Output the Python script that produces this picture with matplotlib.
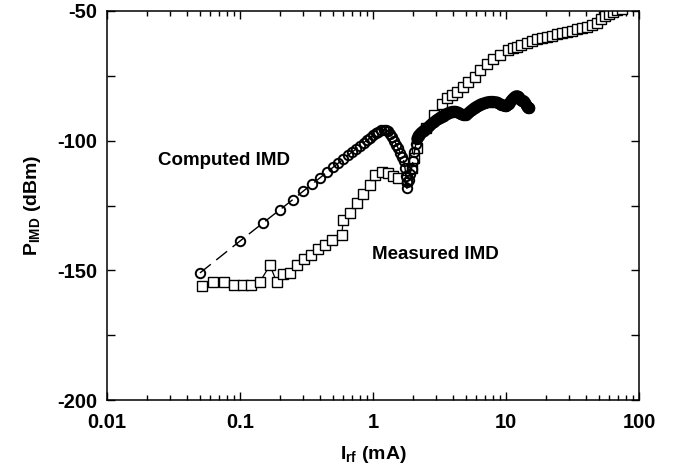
import matplotlib
matplotlib.use("Agg")
import matplotlib.pyplot as plt
from matplotlib.ticker import LogLocator, MultipleLocator, NullFormatter, FuncFormatter

plt.rcParams["font.family"] = ["Liberation Sans", "DejaVu Sans"]
plt.rcParams["font.weight"] = "bold"
plt.rcParams["axes.unicode_minus"] = False
plt.rcParams["mathtext.fontset"] = "custom"
plt.rcParams["mathtext.rm"] = "Liberation Sans:bold"
plt.rcParams["mathtext.it"] = "Liberation Sans:bold"
plt.rcParams["mathtext.bf"] = "Liberation Sans:bold"

# computed IMD vs rf current (mA, dBm)
comp_i = [0.05, 0.10, 0.15, 0.20, 0.25, 0.30, 0.35, 0.40, 0.45, 0.50,
          0.55, 0.60, 0.65, 0.70, 0.75, 0.80, 0.85, 0.90, 0.95, 1.00,
          1.05, 1.10, 1.15, 1.20, 1.25, 1.30, 1.35, 1.40, 1.45, 1.50,
          1.55, 1.60, 1.65, 1.70, 1.74, 1.77, 1.79, 1.80, 1.85, 1.90,
          1.95, 2.00, 2.05, 2.10, 2.15,
          2.2, 2.3, 2.4, 2.5, 2.6, 2.7, 2.8, 2.9, 3.0, 3.1,
          3.2, 3.3, 3.4, 3.5, 3.6, 3.7, 3.8, 3.9, 4.0, 4.2,
          4.4, 4.6, 4.8, 5.0, 5.2, 5.4, 5.6, 5.8, 6.0, 6.2,
          6.4, 6.6, 6.8, 7.0, 7.2, 7.4, 7.6, 7.8, 8.0, 8.25,
          8.5, 8.75, 9.0, 9.25, 9.5, 9.75, 10.0, 10.25, 10.5, 10.75,
          11.0, 11.25, 11.5, 11.75, 12.0, 12.25, 12.5, 12.75, 13.0, 13.25,
          13.5, 13.75, 14.0, 14.25, 14.5, 14.75, 15.0]
comp_p = [-151.0, -138.7, -131.6, -126.6, -122.7, -119.4, -116.7, -114.3, -112.2, -110.3,
          -108.6, -107.1, -105.6, -104.3, -103.1, -101.9, -100.8, -99.8, -98.9, -98.0,
          -97.2, -96.5, -96.0, -95.8, -95.9, -96.4, -97.4, -98.6, -100.0, -101.5,
          -103.0, -104.6, -106.4, -107.8, -110.5, -113.5, -116.0, -118.4, -115.0, -112.8,
          -110.8, -107.8, -104.3, -101.3, -99.3,
          -98.1, -97.0, -96.2, -95.5, -94.8, -94.0, -93.3, -92.7, -92.1, -91.6,
          -91.1, -90.7, -90.3, -89.9, -89.6, -89.3, -89.1, -88.9, -88.8, -88.8,
          -89.2, -89.8, -90.2, -90.0, -89.4, -88.7, -88.0, -87.4, -86.9, -86.5,
          -86.1, -85.8, -85.6, -85.4, -85.2, -85.1, -85.0, -85.0, -85.0, -85.1,
          -85.2, -85.5, -85.8, -86.1, -86.4, -86.6, -86.7, -86.4, -85.9, -85.2,
          -84.5, -83.9, -83.4, -83.0, -82.8, -82.9, -83.3, -83.9, -84.5, -84.8,
          -84.6, -84.9, -85.6, -86.3, -86.9, -87.3, -87.4]

# measured IMD
meas_i = [0.0515, 0.063, 0.076, 0.090, 0.106, 0.122, 0.141, 0.168, 0.189, 0.212,
          0.238, 0.267, 0.303, 0.340, 0.388, 0.436, 0.489, 0.582, 0.598, 0.671,
          0.754, 0.846, 0.948, 1.035, 1.16, 1.30, 1.42, 1.55, 1.81, 1.95,
          2.04, 2.15, 2.5, 2.9, 3.29, 3.58, 3.9, 4.26, 4.78, 5.21,
          5.85, 6.38, 7.16, 8.03, 9.02, 10.4, 11.2, 12.0, 13.0, 14.3,
          15.6, 17.0, 18.5, 20.2, 22.0, 24.0, 26.2, 28.6, 31.2, 34.0,
          37.0, 40.4, 44.0, 48.1, 51.5, 55.5, 60.0, 64.0, 68.0, 74.0]
meas_p = [-155.9, -154.6, -154.4, -155.5, -155.6, -155.6, -154.5, -148.0, -154.6, -151.4,
          -151.2, -148.0, -145.8, -144.1, -141.9, -140.2, -138.3, -136.4, -130.6, -127.8,
          -124.2, -120.6, -117.1, -113.2, -112.0, -112.6, -113.6, -114.5, -115.2, -110.7,
          -106.8, -103.0, -95.0, -90.0, -86.0, -83.5, -82.3, -81.1, -79.4, -77.3,
          -75.3, -72.8, -70.4, -68.6, -67.0, -65.0, -64.4, -63.8, -63.0, -62.2,
          -61.6, -60.9, -60.4, -59.9, -59.5, -59.0, -58.5, -58.0, -57.6, -57.1,
          -56.6, -56.0, -55.3, -54.5, -53.2, -51.8, -51.0, -50.4, -49.8, -49.3]

fig = plt.figure(figsize=(6.81, 4.72), dpi=100)
ax = fig.add_axes([0.1571, 0.1525, 0.7812, 0.8242])

ax.plot(meas_i, meas_p, color="black", lw=0.9, marker="s", ms=6.6,
        mfc="white", mec="black", mew=1.0, zorder=2)
ax.plot(comp_i, comp_p, color="black", lw=1.0, dashes=(10, 5), marker="o", ms=6.8,
        mfc="none", mec="black", mew=1.4, zorder=3)
# above ~2 mA the computed points sit so close together that they merge into a band
k = comp_i.index(2.15)
ax.plot(comp_i[k:], comp_p[k:], color="black", lw=8.5, solid_capstyle="round",
        solid_joinstyle="round", zorder=3)

ax.set_xscale("log")
ax.set_xlim(0.01, 100)
ax.set_ylim(-200, -50)

ax.xaxis.set_major_locator(LogLocator(base=10, numticks=10))
ax.xaxis.set_minor_locator(LogLocator(base=10, subs=range(2, 10), numticks=20))
ax.xaxis.set_minor_formatter(NullFormatter())
ax.xaxis.set_major_formatter(FuncFormatter(lambda v, _: f"{v:g}"))
ax.yaxis.set_major_locator(MultipleLocator(50))
ax.yaxis.set_minor_locator(MultipleLocator(25))

ax.tick_params(which="both", direction="in", top=True, right=True, width=1.0,
               labelsize=14.5)
ax.tick_params(axis="x", which="major", length=6, pad=9)
ax.tick_params(axis="y", which="major", length=6, pad=7)
ax.tick_params(axis="x", which="minor", length=3.5)
ax.tick_params(axis="y", which="minor", length=6)
for sp in ax.spines.values():
    sp.set_linewidth(1.1)

ax.set_xlabel(r"I$_{\rm rf}$ (mA)", fontsize=14, fontweight="bold", labelpad=9)
ax.set_ylabel(r"P$_{\rm IMD}$ (dBm)", fontsize=14, fontweight="bold", labelpad=10)

ax.text(0.076, -107.8, "Computed IMD", fontsize=13.5, fontweight="bold",
        ha="center", va="center")
ax.text(2.93, -143.7, "Measured IMD", fontsize=13.5, fontweight="bold",
        ha="center", va="center")

fig.savefig("out.png", dpi=100)
